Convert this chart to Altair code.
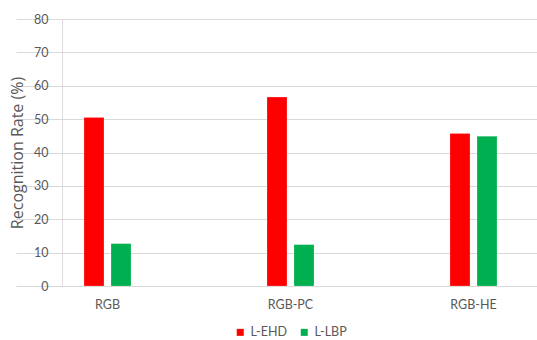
import altair as alt
import pandas as pd

# Recognition rates per colour representation and descriptor
categories = ["RGB", "RGB-PC", "RGB-HE"]
series = ["L-EHD", "L-LBP"]
l_ehd = [50.5, 56.6, 45.7]
l_lbp = [12.7, 12.4, 44.9]
colors = ["#FF0000", "#00B050"]

rows = []
for i, cat in enumerate(categories):
    rows.append({"method": cat, "descriptor": series[0], "rate": l_ehd[i]})
    rows.append({"method": cat, "descriptor": series[1], "rate": l_lbp[i]})
df = pd.DataFrame(rows)

FONT = "Lato"
GRAY = "#595959"

chart = (
    alt.Chart(df)
    .mark_bar(stroke="#ffffff", strokeOpacity=0.35, strokeWidth=0.6)
    .encode(
        x=alt.X(
            "method:N",
            sort=categories,
            scale=alt.Scale(range=[-46, 503], paddingInner=0, paddingOuter=0),
            axis=alt.Axis(
                title=None,
                labelAngle=0,
                domain=False,
                ticks=False,
                labelPadding=12,
                labelFontSize=12.5,
                labelColor=GRAY,
                labelFont=FONT,
            ),
        ),
        xOffset=alt.XOffset(
            "descriptor:N",
            sort=series,
            scale=alt.Scale(range=[68, 115], paddingInner=0.26, paddingOuter=0),
        ),
        y=alt.Y(
            "rate:Q",
            scale=alt.Scale(domain=[0, 80], nice=False),
            axis=alt.Axis(
                title="Recognition Rate (%)",
                values=[0, 10, 20, 30, 40, 50, 60, 70, 80],
                domain=False,
                ticks=False,
                labelPadding=14,
                labelFontSize=12.5,
                labelColor=GRAY,
                labelFont=FONT,
                titleFont="Open Sans",
                titleFontSize=16,
                titleFontWeight="normal",
                titleColor=GRAY,
                titlePadding=8,
                gridColor="#d9d9d9",
                gridWidth=1,
            ),
        ),
        color=alt.Color(
            "descriptor:N",
            sort=series,
            scale=alt.Scale(domain=series, range=colors),
            legend=alt.Legend(
                title=None,
                orient="none",
                direction="horizontal",
                legendX=172,
                legendY=307,
                symbolType="square",
                symbolSize=49,
                symbolStrokeWidth=0,
                labelFontSize=12.5,
                labelColor=GRAY,
                labelFont=FONT,
                labelOffset=4,
                columnPadding=11,
            ),
        ),
    )
    .properties(
        width=475,
        height=267,
        autosize=alt.AutoSizeParams(type="none"),
        padding={"left": 62, "top": 19, "right": 0, "bottom": 54},
    )
    .configure_view(stroke=None)
    .configure(background="#ffffff")
)

chart.save("out.html", embed_options={"renderer": "svg", "actions": False})
